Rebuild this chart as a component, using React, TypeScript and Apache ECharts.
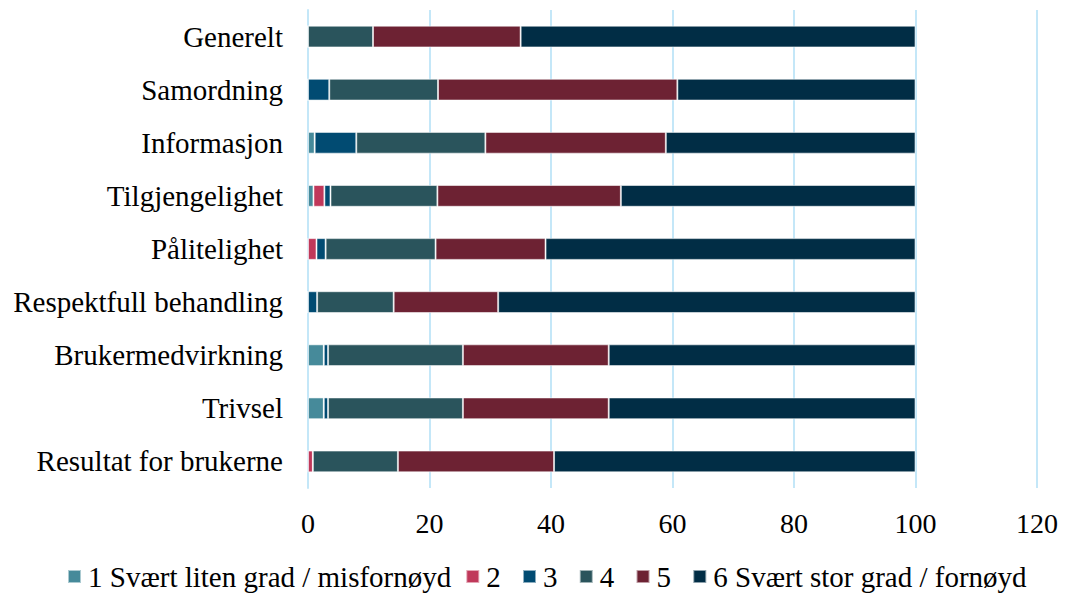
import React, { useEffect, useRef } from "react";
import * as echarts from "echarts";

const categories = [
  "Generelt",
  "Samordning",
  "Informasjon",
  "Tilgjengelighet",
  "Pålitelighet",
  "Respektfull behandling",
  "Brukermedvirkning",
  "Trivsel",
  "Resultat for brukerne",
];

const seriesNames = [
  "1 Svært liten grad / misfornøyd",
  "2",
  "3",
  "4",
  "5",
  "6 Svært stor grad / fornøyd",
];

const s1 = [0, 0, 1.1, 0.9, 0, 0, 2.6, 2.6, 0];
const s2 = [0, 0, 0, 1.8, 1.4, 0, 0, 0, 0.8];
const s3 = [0, 3.5, 6.85, 1.0, 1.5, 1.5, 0.7, 0.7, 0];
const s4 = [10.7, 17.9, 21.25, 17.6, 18.1, 12.6, 22.2, 22.2, 14.0];
const s5 = [24.3, 39.4, 29.7, 30.2, 18.1, 17.2, 24.0, 24.0, 25.7];
const s6 = [65.0, 39.2, 41.1, 48.5, 60.9, 68.7, 50.5, 50.5, 59.5];

const colors = ["#468a9a", "#c0385a", "#014b72", "#2a545c", "#6d2233", "#012d45"];

const xTicksMax = 120;
const xInterval = 20;

export default function App() {
  const ref = useRef<HTMLDivElement>(null);
  useEffect(() => {
    if (!ref.current) return;
    const chart = echarts.init(ref.current, null, { renderer: "svg" });
    const data = [s1, s2, s3, s4, s5, s6];
    const font = "'Liberation Serif', 'Times New Roman', serif";
    chart.setOption({
      animation: false,
      color: colors,
      textStyle: { fontFamily: font },
      grid: { left: 308, right: 28, top: 10, bottom: 109, containLabel: false },
      legend: {
        bottom: 1,
        left: 62,
        icon: "rect",
        itemWidth: 13,
        itemHeight: 13,
        itemGap: 14,
        textStyle: { fontFamily: font, fontSize: 29, color: "#000", padding: [0, 0, 0, 2] },
        formatter: (n: string) => (n.length === 1 ? n + "\u00a0" : n),
        data: seriesNames,
      },
      xAxis: {
        type: "value",
        min: 0,
        max: xTicksMax,
        interval: xInterval,
        axisLine: { show: false },
        axisTick: { show: false },
        splitLine: { show: true, lineStyle: { color: "#c4e7f8", width: 2 } },
        axisLabel: { fontFamily: font, fontSize: 28, color: "#000", margin: 21 },
      },
      yAxis: {
        type: "category",
        data: categories,
        inverse: true,
        axisLine: { show: true, lineStyle: { color: "#c4e7f8", width: 2 } },
        axisTick: { show: false },
        axisLabel: { fontFamily: font, fontSize: 29, color: "#000", margin: 25 },
      },
      series: seriesNames.map((name, i) => ({
        name,
        type: "bar",
        stack: "total",
        barWidth: "41%",
        data: data[i],
        itemStyle: { borderColor: "rgba(255,255,255,0.55)", borderWidth: 1 },
      })),
    });
    return () => chart.dispose();
  }, []);
  return (
    <div
      ref={ref}
      style={{ position: "absolute", left: 0, top: 0, width: 1065, height: 597, background: "#fff" }}
    />
  );
}
